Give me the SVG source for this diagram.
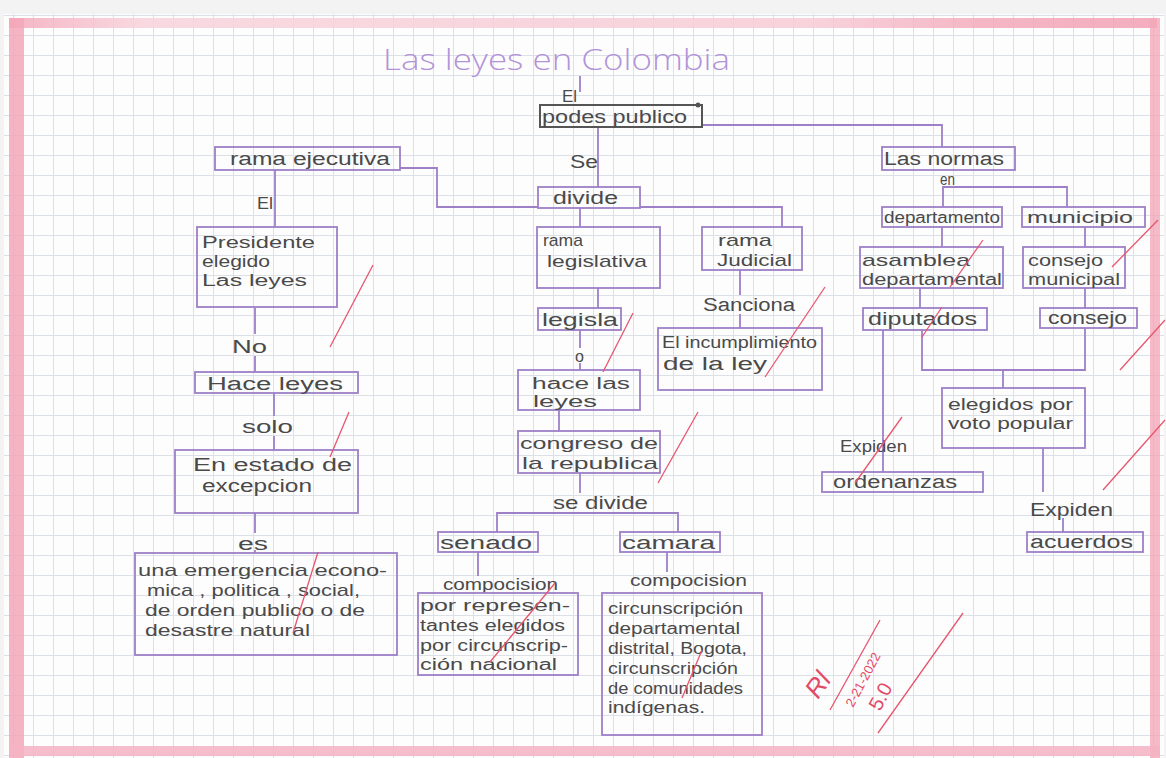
<svg xmlns="http://www.w3.org/2000/svg" width="1166" height="758" viewBox="0 0 1166 758">
  <defs>
    <pattern id="grid" width="20" height="20" patternUnits="userSpaceOnUse" x="13" y="15">
      <path d="M0 0.5 H20 M0.5 0 V20" stroke="#dce0e7" stroke-width="1" fill="none"/>
    </pattern>
    <linearGradient id="topStrip" x1="0" y1="0" x2="1" y2="0">
      <stop offset="0" stop-color="#f3a9bb"/>
      <stop offset="0.12" stop-color="#f8d3dc"/>
      <stop offset="0.7" stop-color="#f7cbd6"/>
      <stop offset="0.85" stop-color="#f3a9bb"/>
      <stop offset="1" stop-color="#f29fb4"/>
    </linearGradient>
    <style>
      .t { font-family: "Liberation Sans", Arial, sans-serif; font-size: 18px; fill: #4a4a4a; }
      .sm { font-size: 16px; }
      .ml { font-size: 17px; }
      .title { font-family: "Open Sans", "Liberation Sans", Arial, sans-serif; font-weight: 300; font-size: 30px; fill: #b293d8; }
      .box { fill: none; stroke: #9d80c8; stroke-width: 1.8; }
      .dark { fill: none; stroke: #555555; stroke-width: 2; }
      .ln { fill: none; stroke: #9d80c8; stroke-width: 1.8; }
      .chk { fill: none; stroke: #e7566f; stroke-width: 1.3; }
      .red { font-family: "Liberation Sans", Arial, sans-serif; fill: #e24a66; }
    </style>
  </defs>

  <!-- sheet of squared paper -->
  <rect x="0" y="0" width="1166" height="758" fill="#f3f3f3"/>
  <rect x="4" y="14" width="1160" height="744" fill="#fdfdfd"/>
  <rect x="4" y="14" width="1160" height="744" fill="url(#grid)"/>
  <!-- pink margins -->
  <rect x="9" y="18" width="1148" height="10" fill="url(#topStrip)" opacity="0.85"/>
  <rect x="9" y="18" width="15" height="740" fill="#f3a7b9" opacity="0.85"/>
  <rect x="1150" y="18" width="10" height="740" fill="#f3a7b9" opacity="0.8"/>
  <rect x="9" y="746" width="1151" height="10" fill="#f5b3c3" opacity="0.85"/>

  <!-- heading -->
  <text class="title" x="383" y="70" textLength="347" lengthAdjust="spacingAndGlyphs">Las leyes en Colombia</text>

  <!-- connectors -->
  <g id="connectors">
    <path class="ln" d="M580 76 V92" stroke="#555"/>
    <path class="ln" d="M598 127 V187"/>
    <path class="ln" d="M702 125 H942 V147"/>
    <path class="ln" d="M400 168 H437 V207 H538"/>
    <path class="ln" d="M640 207 H782 V227"/>
    <path class="ln" d="M580 208 V227"/>
    <path class="ln" d="M275 170 V227"/>
    <path class="ln" d="M255 308 V334 M255 356 V372"/>
    <path class="ln" d="M274 393 V416 M274 436 V450"/>
    <path class="ln" d="M255 513 V533 M255 550 V553"/>
    <path class="ln" d="M598 288 V308"/>
    <path class="ln" d="M580 330 V348 M580 363 V370"/>
    <path class="ln" d="M559 410 V431"/>
    <path class="ln" d="M580 473 V493"/>
    <path class="ln" d="M497 532 V513 H678 V532"/>
    <path class="ln" d="M478 552 V576"/>
    <path class="ln" d="M667 552 V572"/>
    <path class="ln" d="M740 270 V295 M740 314 V328"/>
    <path class="ln" d="M943 207 V187 H1067 V207"/>
    <path class="ln" d="M942 227 V247"/>
    <path class="ln" d="M1085 227 V247"/>
    <path class="ln" d="M920 288 V308"/>
    <path class="ln" d="M1085 288 V308"/>
    <path class="ln" d="M883 330 V472"/>
    <path class="ln" d="M922 330 V370 H1085 V328"/>
    <path class="ln" d="M1003 370 V388"/>
    <path class="ln" d="M1043 448 V492"/>
    <path class="ln" d="M1063 518 V532"/>
  </g>

  <!-- connector labels -->
  <g id="labels">
    <text class="t sm" x="562" y="102" textLength="15" lengthAdjust="spacingAndGlyphs">El</text>
    <text class="t" x="570" y="168" textLength="28" lengthAdjust="spacingAndGlyphs">Se</text>
    <text class="t sm" x="257" y="209" textLength="16" lengthAdjust="spacingAndGlyphs">El</text>
    <text class="t" x="232" y="353" textLength="35" lengthAdjust="spacingAndGlyphs">No</text>
    <text class="t" x="242" y="433" textLength="51" lengthAdjust="spacingAndGlyphs">solo</text>
    <text class="t" x="238" y="550" textLength="30" lengthAdjust="spacingAndGlyphs">es</text>
    <text class="t sm" x="575" y="362">o</text>
    <text class="t" x="553" y="509" textLength="95" lengthAdjust="spacingAndGlyphs">se divide</text>
    <text class="t" x="703" y="311" textLength="92" lengthAdjust="spacingAndGlyphs">Sanciona</text>
    <text class="t sm" x="443" y="590" textLength="115" lengthAdjust="spacingAndGlyphs">compocision</text>
    <text class="t sm" x="630" y="586" textLength="117" lengthAdjust="spacingAndGlyphs">compocision</text>
    <text class="t sm" x="940" y="185" textLength="15" lengthAdjust="spacingAndGlyphs">en</text>
    <text class="t sm" x="840" y="452" textLength="67" lengthAdjust="spacingAndGlyphs">Expiden</text>
    <text class="t" x="1030" y="516" textLength="83" lengthAdjust="spacingAndGlyphs">Expiden</text>
  </g>

  <!-- nodes -->
  <g id="poder-publico">
    <rect class="dark" x="540" y="105" width="162" height="22"/>
    <circle cx="698" cy="105" r="2.5" fill="#555"/>
    <text class="t" x="542" y="123" textLength="145" lengthAdjust="spacingAndGlyphs">podes publico</text>
  </g>
  <g id="divide">
    <rect class="box" x="538" y="187" width="102" height="21"/>
    <text class="t" x="553" y="204" textLength="65" lengthAdjust="spacingAndGlyphs">divide</text>
  </g>
  <g id="rama-ejecutiva">
    <rect class="box" x="215" y="147" width="185" height="23"/>
    <text class="t" x="230" y="165" textLength="160" lengthAdjust="spacingAndGlyphs">rama ejecutiva</text>
  </g>
  <g id="presidente">
    <rect class="box" x="197" y="227" width="140" height="80"/>
    <text class="t sm" x="202" y="248" textLength="113" lengthAdjust="spacingAndGlyphs">Presidente</text>
    <text class="t sm" x="202" y="267" textLength="68" lengthAdjust="spacingAndGlyphs">elegido</text>
    <text class="t sm" x="202" y="286" textLength="105" lengthAdjust="spacingAndGlyphs">Las leyes</text>
  </g>
  <g id="hace-leyes">
    <rect class="box" x="195" y="372" width="163" height="21"/>
    <text class="t" x="207" y="390" textLength="136" lengthAdjust="spacingAndGlyphs">Hace leyes</text>
  </g>
  <g id="estado-excepcion">
    <rect class="box" x="175" y="450" width="183" height="63"/>
    <text class="t" x="193" y="471" textLength="159" lengthAdjust="spacingAndGlyphs">En estado de</text>
    <text class="t" x="202" y="492" textLength="110" lengthAdjust="spacingAndGlyphs">excepcion</text>
  </g>
  <g id="emergencia">
    <rect class="box" x="135" y="553" width="262" height="102"/>
    <text class="t ml" x="138" y="576" textLength="249" lengthAdjust="spacingAndGlyphs">una emergencia econo-</text>
    <text class="t ml" x="147" y="596" textLength="213" lengthAdjust="spacingAndGlyphs">mica , politica , social,</text>
    <text class="t ml" x="145" y="616" textLength="220" lengthAdjust="spacingAndGlyphs">de orden publico o de</text>
    <text class="t ml" x="145" y="636" textLength="165" lengthAdjust="spacingAndGlyphs">desastre natural</text>
  </g>
  <g id="rama-legislativa">
    <rect class="box" x="537" y="227" width="123" height="61"/>
    <text class="t ml" x="543" y="246" textLength="40" lengthAdjust="spacingAndGlyphs">rama</text>
    <text class="t ml" x="547" y="267" textLength="100" lengthAdjust="spacingAndGlyphs">legislativa</text>
  </g>
  <g id="rama-judicial">
    <rect class="box" x="702" y="227" width="100" height="43"/>
    <text class="t ml" x="718" y="246" textLength="54" lengthAdjust="spacingAndGlyphs">rama</text>
    <text class="t ml" x="717" y="266" textLength="75" lengthAdjust="spacingAndGlyphs">Judicial</text>
  </g>
  <g id="legisla">
    <rect class="box" x="538" y="308" width="83" height="22"/>
    <text class="t" x="542" y="326" textLength="76" lengthAdjust="spacingAndGlyphs">legisla</text>
  </g>
  <g id="hace-las-leyes">
    <rect class="box" x="518" y="370" width="122" height="40"/>
    <text class="t sm" x="532" y="389" textLength="98" lengthAdjust="spacingAndGlyphs">hace las</text>
    <text class="t sm" x="533" y="407" textLength="64" lengthAdjust="spacingAndGlyphs">leyes</text>
  </g>
  <g id="congreso">
    <rect class="box" x="518" y="431" width="142" height="42"/>
    <text class="t ml" x="520" y="449" textLength="138" lengthAdjust="spacingAndGlyphs">congreso de</text>
    <text class="t ml" x="522" y="469" textLength="136" lengthAdjust="spacingAndGlyphs">la republica</text>
  </g>
  <g id="incumplimiento">
    <rect class="box" x="658" y="328" width="164" height="62"/>
    <text class="t sm" x="662" y="348" textLength="155" lengthAdjust="spacingAndGlyphs">El incumplimiento</text>
    <text class="t" x="663" y="370" textLength="104" lengthAdjust="spacingAndGlyphs">de la ley</text>
  </g>
  <g id="senado">
    <rect class="box" x="438" y="532" width="100" height="20"/>
    <text class="t" x="440" y="549" textLength="92" lengthAdjust="spacingAndGlyphs">senado</text>
  </g>
  <g id="camara">
    <rect class="box" x="620" y="532" width="100" height="20"/>
    <text class="t" x="622" y="549" textLength="93" lengthAdjust="spacingAndGlyphs">camara</text>
  </g>
  <g id="senado-composicion">
    <rect class="box" x="418" y="593" width="160" height="82"/>
    <text class="t sm" x="420" y="611" textLength="150" lengthAdjust="spacingAndGlyphs">por represen-</text>
    <text class="t sm" x="420" y="631" textLength="145" lengthAdjust="spacingAndGlyphs">tantes elegidos</text>
    <text class="t sm" x="420" y="651" textLength="148" lengthAdjust="spacingAndGlyphs">por circunscrip-</text>
    <text class="t sm" x="420" y="670" textLength="137" lengthAdjust="spacingAndGlyphs">ción nacional</text>
  </g>
  <g id="camara-composicion">
    <rect class="box" x="602" y="593" width="160" height="142"/>
    <text class="t sm" x="608" y="614" textLength="135" lengthAdjust="spacingAndGlyphs">circunscripción</text>
    <text class="t sm" x="608" y="634" textLength="132" lengthAdjust="spacingAndGlyphs">departamental</text>
    <text class="t sm" x="608" y="654" textLength="139" lengthAdjust="spacingAndGlyphs">distrital, Bogota,</text>
    <text class="t sm" x="608" y="674" textLength="130" lengthAdjust="spacingAndGlyphs">circunscripción</text>
    <text class="t sm" x="608" y="694" textLength="135" lengthAdjust="spacingAndGlyphs">de comunidades</text>
    <text class="t sm" x="608" y="713" textLength="97" lengthAdjust="spacingAndGlyphs">indígenas.</text>
  </g>
  <g id="las-normas">
    <rect class="box" x="882" y="147" width="133" height="23"/>
    <text class="t" x="884" y="165" textLength="120" lengthAdjust="spacingAndGlyphs">Las normas</text>
  </g>
  <g id="departamento">
    <rect class="box" x="882" y="207" width="120" height="20"/>
    <text class="t sm" x="884" y="223" textLength="116" lengthAdjust="spacingAndGlyphs">departamento</text>
  </g>
  <g id="municipio">
    <rect class="box" x="1022" y="207" width="123" height="20"/>
    <text class="t sm" x="1027" y="223" textLength="106" lengthAdjust="spacingAndGlyphs">municipio</text>
  </g>
  <g id="asamblea">
    <rect class="box" x="860" y="247" width="143" height="41"/>
    <text class="t ml" x="862" y="266" textLength="108" lengthAdjust="spacingAndGlyphs">asamblea</text>
    <text class="t sm" x="862" y="285" textLength="140" lengthAdjust="spacingAndGlyphs">departamental</text>
  </g>
  <g id="consejo-municipal">
    <rect class="box" x="1023" y="247" width="102" height="41"/>
    <text class="t ml" x="1028" y="266" textLength="75" lengthAdjust="spacingAndGlyphs">consejo</text>
    <text class="t sm" x="1028" y="285" textLength="92" lengthAdjust="spacingAndGlyphs">municipal</text>
  </g>
  <g id="diputados">
    <rect class="box" x="863" y="308" width="124" height="22"/>
    <text class="t" x="868" y="325" textLength="109" lengthAdjust="spacingAndGlyphs">diputados</text>
  </g>
  <g id="consejo">
    <rect class="box" x="1040" y="308" width="97" height="20"/>
    <text class="t" x="1048" y="324" textLength="79" lengthAdjust="spacingAndGlyphs">consejo</text>
  </g>
  <g id="elegidos">
    <rect class="box" x="942" y="388" width="143" height="60"/>
    <text class="t sm" x="948" y="410" textLength="125" lengthAdjust="spacingAndGlyphs">elegidos por</text>
    <text class="t sm" x="948" y="429" textLength="125" lengthAdjust="spacingAndGlyphs">voto popular</text>
  </g>
  <g id="ordenanzas">
    <rect class="box" x="822" y="472" width="161" height="20"/>
    <text class="t" x="833" y="488" textLength="124" lengthAdjust="spacingAndGlyphs">ordenanzas</text>
  </g>
  <g id="acuerdos">
    <rect class="box" x="1027" y="532" width="116" height="20"/>
    <text class="t" x="1030" y="548" textLength="103" lengthAdjust="spacingAndGlyphs">acuerdos</text>
  </g>

  <!-- red review ticks -->
  <g id="review">
    <path class="chk" d="M373 265 L330 347"/>
    <path class="chk" d="M349 412 L330 457"/>
    <path class="chk" d="M318 552 L293 633"/>
    <path class="chk" d="M633 313 L603 372"/>
    <path class="chk" d="M825 287 L765 377"/>
    <path class="chk" d="M698 412 L658 483"/>
    <path class="chk" d="M555 583 L490 662"/>
    <path class="chk" d="M702 650 L682 698"/>
    <path class="chk" d="M983 240 L950 287"/>
    <path class="chk" d="M1158 220 L1112 267"/>
    <path class="chk" d="M942 307 L922 337"/>
    <path class="chk" d="M1165 320 L1120 370"/>
    <path class="chk" d="M1165 420 L1103 490"/>
    <path class="chk" d="M902 417 L855 483"/>
    <path class="chk" d="M880 620 L830 710"/>
    <path class="chk" d="M963 613 L878 733"/>
    <text class="red" font-size="26" font-style="italic" transform="translate(818 700) rotate(-55)">Rl</text>
    <text class="red" font-size="13" transform="translate(853 708) rotate(-62)">2-21-2022</text>
    <text class="red" font-size="20" transform="translate(880 712) rotate(-62)">5.0</text>
  </g>
</svg>
